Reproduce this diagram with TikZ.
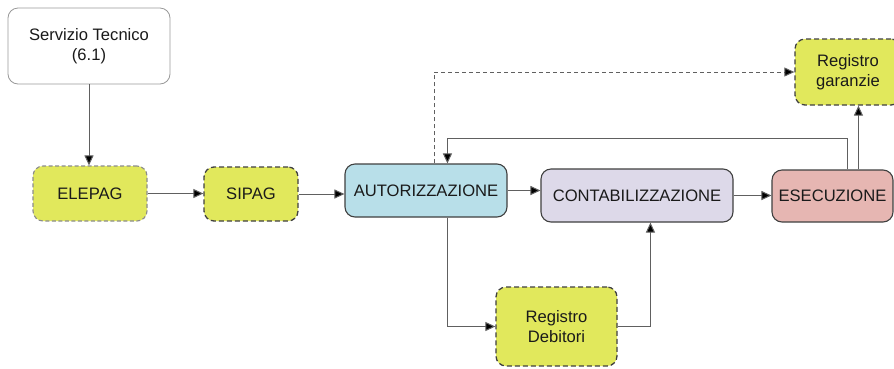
\documentclass[tikz,border=0pt]{standalone}
\usepackage{fontspec}
\setmainfont{Liberation Sans}
\usetikzlibrary{arrows.meta,calc}
\definecolor{ylw}{HTML}{E1E85C}
\definecolor{blu}{HTML}{B8DFE9}
\definecolor{lav}{HTML}{DDD9E9}
\definecolor{pnk}{HTML}{E6B6B2}
\definecolor{bord}{HTML}{404040}
\definecolor{conn}{HTML}{606060}
\definecolor{txt}{HTML}{1A1A1A}
\tikzset{
  box/.style={draw=bord, line width=1.1pt, rounded corners=10pt, align=center,
    font=\fontsize{16.6}{20.5}\selectfont, text=txt, inner sep=0pt},
  ybox/.style={box, fill=ylw, dashed, dash pattern=on 5pt off 3pt, line width=1.3pt},
  lbox/.style={ybox, draw=bord!60, line width=1.1pt, dash pattern=on 4pt off 2.5pt},
  conx/.style={draw=conn, line width=1pt, -{Triangle[length=10pt,width=9pt,fill=black]}},
}
\begin{document}
\begin{tikzpicture}[x=1pt,y=-1pt]
\clip (0,0) rectangle (894,368);
\fill[white] (0,0) rectangle (894,368);
\node[box, draw=gray!80, line width=0.8pt, minimum width=162pt, minimum height=76pt] (serv) at (89,46) {Servizio Tecnico\\(6.1)};
\node[lbox, minimum width=114pt, minimum height=55pt] (elepag) at (90,193.5) {ELEPAG};
\node[ybox, minimum width=94pt, minimum height=54pt] (sipag) at (251,194) {SIPAG};
\node[box, fill=blu, minimum width=162pt, minimum height=53pt] (auto) at (426,190.5) {AUTORIZZAZIONE};
\node[box, fill=lav, minimum width=192pt, minimum height=53pt] (conta) at (637,195.5) {CONTABILIZZAZIONE};
\node[box, fill=pnk, minimum width=121pt, minimum height=52pt] (esec) at (832.5,196) {ESECUZIONE};
\node[ybox, minimum width=106pt, minimum height=66pt] (rgar) at (848,72) {Registro\\garanzie};
\node[ybox, minimum width=121pt, minimum height=79pt] (rdeb) at (556.5,326.5) {Registro\\Debitori};

\coordinate (e1) at ($(esec.north west)+(76,0)$);
\coordinate (e2) at ($(esec.north west)+(87,0)$);
\coordinate (a1) at ($(auto.north west)+(103,0)$);
\coordinate (a2) at ($(auto.north west)+(90,0)$);
\coordinate (a3) at ($(auto.south west)+(103,0)$);
\coordinate (c1) at ($(conta.south west)+(110,0)$);

\draw[conx] (serv.south) -- (serv.south |- elepag.north);
\draw[conx] (elepag.east) -- (elepag.east -| sipag.west);
\draw[conx] (sipag.east) -- (sipag.east -| auto.west);
\draw[conx] (auto.east) -- (auto.east -| conta.west);
\draw[conx] (conta.east) -- (conta.east -| esec.west);
\draw[conx] (e1) -- (e1 |- 0,138) -- (a1 |- 0,138) -- (a1);
\draw[conx] (e2) -- (e2 |- rgar.south);
\draw[conx, dashed, dash pattern=on 4pt off 3pt] (a2) -- (a2 |- rgar.west) -- (rgar.west);
\draw[conx] (a3) -- (a3 |- rdeb.west) -- (rdeb.west);
\draw[conx] (rdeb.east) -- (c1 |- rdeb.east) -- (c1);
\end{tikzpicture}
\end{document}
